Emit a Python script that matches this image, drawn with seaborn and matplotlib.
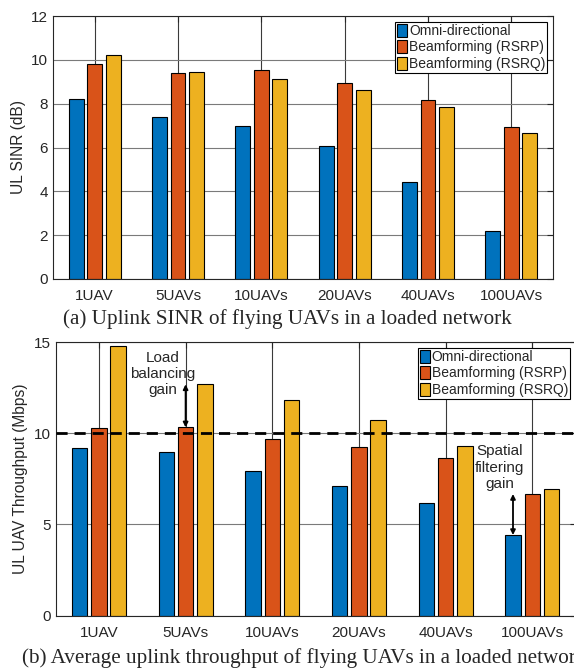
import numpy as np
import pandas as pd
import seaborn as sns
import matplotlib
matplotlib.use("Agg")
import matplotlib.pyplot as plt

# data
categories = ["1UAV", "5UAVs", "10UAVs", "20UAVs", "40UAVs", "100UAVs"]
schemes = ["Omni-directional", "Beamforming (RSRP)", "Beamforming (RSRQ)"]

sinr_omni = [8.22, 7.40, 7.00, 6.06, 4.44, 2.18]
sinr_rsrp = [9.80, 9.42, 9.54, 8.95, 8.16, 6.95]
sinr_rsrq = [10.23, 9.45, 9.13, 8.64, 7.84, 6.68]

tput_omni = [9.17, 8.99, 7.91, 7.11, 6.16, 4.42]
tput_rsrp = [10.27, 10.32, 9.68, 9.22, 8.64, 6.67]
tput_rsrq = [14.78, 12.68, 11.82, 10.72, 9.30, 6.94]

colors = ["#0072BD", "#D95319", "#EDB120"]

sinr_ticks = [0, 2, 4, 6, 8, 10, 12]
tput_ticks = [0, 5, 10, 15]
target_tput = 10


def to_long(a, b, c):
    rows = []
    for name, vals in zip(schemes, [a, b, c]):
        for cat, v in zip(categories, vals):
            rows.append({"cat": cat, "scheme": name, "value": v})
    return pd.DataFrame(rows)


def style_axes(ax, ticks, ylim):
    ax.set_xlim(-0.5, len(categories) - 0.5)
    ax.set_ylim(*ylim)
    ax.set_yticks(ticks)
    ax.set_xlabel("")
    ax.set_axisbelow(True)
    ax.yaxis.grid(True, color="#7a7a7a", linewidth=0.8)
    ax.xaxis.grid(True, color="#3a3a3a", linewidth=0.8)
    ax.tick_params(direction="in", top=True, right=True, length=4,
                   width=0.8, labelsize=11, color="#262626", labelcolor="#262626")
    ax.tick_params(axis="x", pad=7.5)
    for s in ax.spines.values():
        s.set_color("#262626")
        s.set_linewidth(0.8)
    for p in ax.patches:
        p.set_edgecolor("black")
        p.set_linewidth(0.8)
    leg = ax.legend(loc="upper right", frameon=True, fancybox=False,
                    fontsize=10, handlelength=0.7, handleheight=1.1,
                    handletextpad=0.15, labelspacing=0.15, borderpad=0.15,
                    borderaxespad=0.4, edgecolor="black", framealpha=1)
    leg.get_frame().set_linewidth(0.8)
    for h in leg.legend_handles:
        h.set_edgecolor("black")
        h.set_linewidth(0.8)


sns.set_theme(style="white")
plt.rcParams["font.family"] = ["Liberation Sans", "DejaVu Sans"]

fig = plt.figure(figsize=(5.74, 6.72), dpi=100)

# (a) uplink SINR
ax1 = fig.add_axes([53 / 574, 1 - 279 / 672, 500 / 574, 263 / 672])
sns.barplot(data=to_long(sinr_omni, sinr_rsrp, sinr_rsrq), x="cat", y="value",
            hue="scheme", hue_order=schemes, palette=colors, width=0.667,
            gap=0.2, saturation=1, ax=ax1)
style_axes(ax1, sinr_ticks, (0, 12))
ax1.set_ylabel("UL SINR (dB)", fontsize=11.2, color="#262626")

# (b) uplink throughput
ax2 = fig.add_axes([55.6 / 574, 1 - 615.7 / 672, 520 / 574, 273.7 / 672])
sns.barplot(data=to_long(tput_omni, tput_rsrp, tput_rsrq), x="cat", y="value",
            hue="scheme", hue_order=schemes, palette=colors, width=0.667,
            gap=0.2, saturation=1, ax=ax2)
ax2.axhline(target_tput, color="black", linestyle=(0, (4, 2.5)), linewidth=2, zorder=3)
style_axes(ax2, tput_ticks, (0, 15))
ax2.set_ylabel("UL UAV Throughput (Mbps)", fontsize=11.2, color="#262626")

off = 0.667 / 3
arrow = dict(arrowstyle="<|-|>", color="black", lw=1.3, mutation_scale=7,
             shrinkA=0, shrinkB=0)
ax2.annotate("", xy=(1, tput_rsrp[1]), xytext=(1, tput_rsrq[1]), arrowprops=arrow)
ax2.text(0.74, 13.25, "Load\nbalancing\ngain", ha="center", va="center",
         fontsize=11, linespacing=1.2)
ax2.annotate("", xy=(5 - off, tput_omni[5]), xytext=(5 - off, tput_rsrp[5]),
             arrowprops=arrow)
ax2.text(4.62, 8.12, "Spatial\nfiltering\ngain", ha="center", va="center",
         fontsize=11, linespacing=1.2)

fig.text(0.5, 1 - 319 / 672, "(a) Uplink SINR of flying UAVs in a loaded network",
         ha="center", va="center", family=["Liberation Serif", "DejaVu Serif"],
         fontsize=15.2)
fig.text(22 / 574, 1 - 658 / 672,
         "(b) Average uplink throughput of flying UAVs in a loaded network",
         ha="left", va="center", family=["Liberation Serif", "DejaVu Serif"],
         fontsize=15.2)

fig.savefig("out.png", dpi=100)
